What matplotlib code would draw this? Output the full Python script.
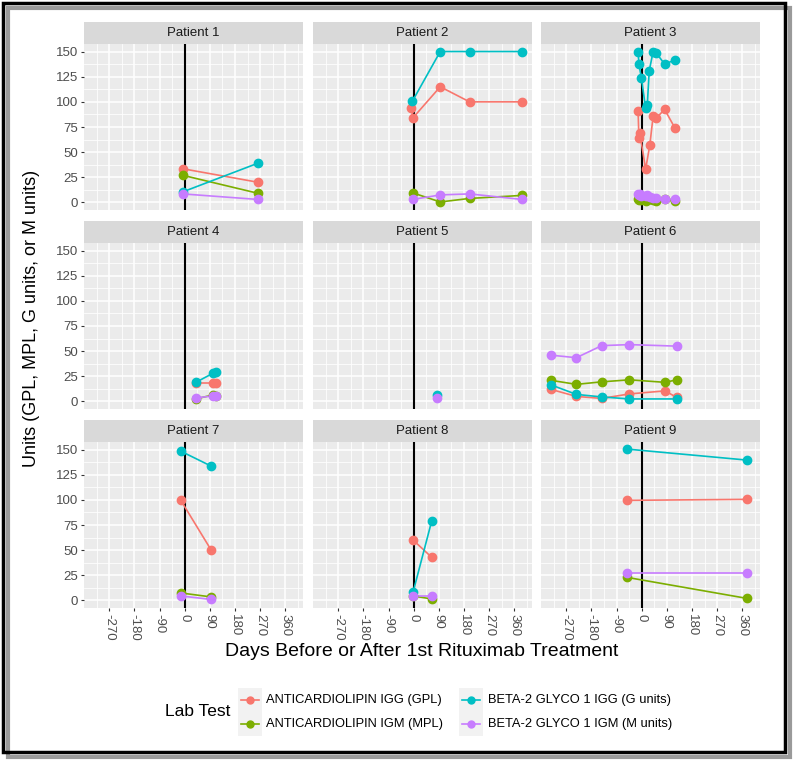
import numpy as np
import matplotlib
matplotlib.use('Agg')
import matplotlib.pyplot as plt
from matplotlib.patches import Rectangle
from matplotlib.lines import Line2D

plt.rcParams['font.family'] = ['Liberation Sans', 'DejaVu Sans']

# tests and colours (ggplot default hue palette)
tests = ['ANTICARDIOLIPIN IGG (GPL)', 'ANTICARDIOLIPIN IGM (MPL)',
         'BETA-2 GLYCO 1 IGG (G units)', 'BETA-2 GLYCO 1 IGM (M units)']
colors = ['#F8766D', '#7CAE00', '#00BFC4', '#C77CFF']
keys = ['acl_igg', 'acl_igm', 'b2_igg', 'b2_igm']

# data per patient: test -> (days, values)
p1 = {'acl_igg': ([-7, 264], [33.5, 20]),
      'acl_igm': ([-7, 264], [27, 9]),
      'b2_igg': ([-7, 262], [10.5, 39]),
      'b2_igm': ([-7, 262], [8.5, 3])}
p2 = {'acl_igg': ([-8, -3, 95, 200, 388], [94, 84, 115, 100, 100]),
      'acl_igm': ([-3, 95, 200, 388], [9.5, 0.5, 4, 7]),
      'b2_igg': ([-5, 95, 200, 388], [100.5, 150, 150, 150]),
      'b2_igm': ([-3, 95, 200, 388], [3, 7.5, 8.5, 3])}
p3 = {'acl_igg': ([-13, -10, -7, 14, 29, 41, 51, 82, 118],
                  [91, 64.5, 69.5, 33, 57, 86, 83.5, 92.5, 74.5]),
      'acl_igm': ([-13, -10, -1, 14, 20, 29, 41, 51, 82, 118],
                  [3, 2, 2, 1, 2, 3, 2, 1, 3, 1]),
      'b2_igg': ([-13, -10, -1, 14, 20, 27, 41, 51, 82, 118],
                 [150, 137.5, 123.5, 93.5, 97, 131, 150, 149, 137.5, 141.5]),
      'b2_igm': ([-13, -10, -7, -1, 14, 20, 29, 41, 51, 82, 118],
                 [8, 7, 8, 6, 6, 7, 5, 4, 4, 3, 3])}
p4 = {'acl_igg': ([40, 101, 113], [18, 18, 18]),
      'acl_igm': ([40, 101, 113], [2.5, 6.5, 5.5]),
      'b2_igg': ([40, 101, 113], [19, 28, 29.5]),
      'b2_igm': ([40, 101, 113], [3.5, 5.5, 5])}
p5 = {'b2_igg': ([82], [6]),
      'b2_igm': ([82], [3])}
p6 = {'acl_igg': ([-325, -234, -143, -44, 84, 125], [12, 5, 3, 7.5, 10.5, 4]),
      'acl_igm': ([-325, -234, -143, -44, 84, 125], [21, 17, 19.5, 21.5, 19, 21.5]),
      'b2_igg': ([-325, -234, -143, -44, 125], [16.5, 7, 4.5, 2.5, 2.5]),
      'b2_igm': ([-325, -234, -143, -44, 125], [46, 43.5, 55.5, 56.5, 55])}
p7 = {'acl_igg': ([-15, 95], [100, 50]),
      'acl_igm': ([-15, 95], [7.5, 3.5]),
      'b2_igg': ([-15, 95], [148.5, 133.5]),
      'b2_igm': ([-15, 95], [4.5, 1])}
p8 = {'acl_igg': ([-2, 64], [60, 43]),
      'acl_igm': ([-2, 64], [4.5, 1.5]),
      'b2_igg': ([-2, 64], [8.5, 78.5]),
      'b2_igm': ([-2, 64], [4, 4])}
p9 = {'acl_igg': ([-54, 378], [99.5, 100.5]),
      'acl_igm': ([-54, 378], [23, 2]),
      'b2_igg': ([-54, 378], [150.5, 139.5]),
      'b2_igm': ([-54, 378], [27, 27])}
patients = [p1, p2, p3, p4, p5, p6, p7, p8, p9]
titles = ['Patient %d' % (i + 1) for i in range(9)]

xticks = [-270, -180, -90, 0, 90, 180, 270, 360]
yticks = [0, 25, 50, 75, 100, 125, 150]

W, H = 800, 766
fig = plt.figure(figsize=(W / 100, H / 100), dpi=100)

# limits like ggplot (5% expansion)
alld = [d for p in patients for k in p for d in p[k][0]]
xmin, xmax = min(alld), max(alld)
xr = xmax - xmin
xlim = (xmin - 0.05 * xr, xmax + 0.05 * xr)
ylim = (-7.5, 157.5)

col_left = [84, 313, 541]
row_top = [44, 243, 442]
pw, ph = 219, 166
strip_h = 22

for i, p in enumerate(patients):
    r, c = divmod(i, 3)
    x0 = col_left[c]
    y0 = row_top[r]
    ax = fig.add_axes([x0 / W, 1 - (y0 + ph) / H, pw / W, ph / H])
    ax.set_facecolor('#EBEBEB')
    ax.set_xlim(xlim)
    ax.set_ylim(ylim)
    ax.set_xticks(xticks)
    ax.set_yticks(yticks)
    ax.set_xticks([t + 45 for t in [-360] + xticks], minor=True)
    ax.set_yticks([12.5, 37.5, 62.5, 87.5, 112.5, 137.5], minor=True)
    ax.grid(which='major', color='white', lw=1.1)
    ax.grid(which='minor', color='white', lw=0.55)
    ax.set_axisbelow(True)
    for s in ax.spines.values():
        s.set_visible(False)
    ax.tick_params(which='minor', length=0)
    ax.tick_params(which='major', length=2.5, width=0.8, color='#333333',
                   labelcolor='#4D4D4D', labelsize=9.5, pad=2)
    if c != 0:
        ax.tick_params(axis='y', length=0, labelleft=False)
    if r != 2:
        ax.tick_params(axis='x', length=0, labelbottom=False)
    else:
        ax.set_xticklabels([str(t) for t in xticks], rotation=270)

    ax.axvline(0, color='black', lw=1.5, zorder=2)
    for k, col in zip(keys, colors):
        if k in p:
            d, v = p[k]
            ax.plot(d, v, color=col, lw=1.2, zorder=3)
    for k, col in zip(keys, colors):
        if k in p:
            d, v = p[k]
            ax.plot(d, v, 'o', color=col, ms=6, zorder=4)

    # strip
    sax = fig.add_axes([x0 / W, 1 - y0 / H, pw / W, strip_h / H])
    sax.set_facecolor('#D9D9D9')
    sax.set_xticks([])
    sax.set_yticks([])
    for s in sax.spines.values():
        s.set_visible(False)
    sax.text(0.5, 0.5, titles[i], ha='center', va='center', fontsize=9.5,
             color='#1A1A1A', transform=sax.transAxes)

# axis titles
fig.text(422 / W, 1 - 652 / H, 'Days Before or After 1st Rituximab Treatment',
         ha='center', va='center', fontsize=14)
fig.text(32 / W, 1 - 318 / H, 'Units (GPL, MPL, G units, or M units)',
         ha='center', va='center', rotation=90, fontsize=13)

# legend drawn by hand
fig.text(198 / W, 1 - 712 / H, 'Lab Test', ha='center', va='center', fontsize=12.5)
key_x = [250, 471]
text_x = [266, 488]
row_y = [700, 724]
for j, (lab, col) in enumerate(zip(tests, colors)):
    cc, rr = divmod(j, 2)
    fig.patches.append(Rectangle(((key_x[cc] - 12) / W, 1 - (row_y[rr] + 12) / H),
                                 24 / W, 24 / H, transform=fig.transFigure,
                                 facecolor='#F2F2F2', edgecolor='none'))
    fig.lines.append(Line2D([(key_x[cc] - 9) / W, (key_x[cc] + 9) / W],
                            [1 - row_y[rr] / H] * 2, transform=fig.transFigure,
                            color=col, lw=1.2))
    fig.lines.append(Line2D([key_x[cc] / W], [1 - row_y[rr] / H], marker='o',
                            ms=5, color=col, transform=fig.transFigure))
    fig.text(text_x[cc] / W, 1 - row_y[rr] / H, lab, ha='left', va='center',
             fontsize=9.3)

# frame with shadow
fig.patches.append(Rectangle((8 / W, 1 - 757 / H), 782 / W, 749 / H,
                             transform=fig.transFigure, facecolor='none',
                             edgecolor='#9A9A9A', lw=3, zorder=0))
fig.patches.append(Rectangle((3 / W, 1 - 752 / H), 782 / W, 749 / H,
                             transform=fig.transFigure, facecolor='none',
                             edgecolor='black', lw=2.5, zorder=1))

fig.savefig('out.png', dpi=100)
